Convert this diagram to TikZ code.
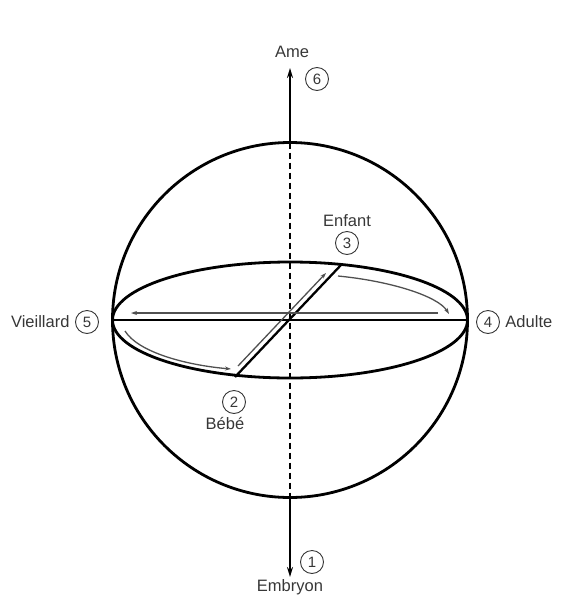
\documentclass[tikz,border=0pt]{standalone}
\usepackage{fontspec}
\setmainfont{Liberation Sans}
\definecolor{lbltext}{RGB}{55,55,55}
\definecolor{flowgray}{RGB}{80,80,80}
\usetikzlibrary{arrows.meta,positioning}

\begin{document}
\begin{tikzpicture}[x=1pt, y=-1pt,
  every node/.style={font=\fontsize{16.5}{18}\selectfont, text=lbltext},
  numcirc/.style={circle, draw=lbltext, line width=0.9pt, inner sep=0pt, minimum size=23pt, font=\fontsize{15}{16}\selectfont},
  body/.style={line width=2.8pt},
  axis/.style={line width=2.8pt, -{Stealth[length=10pt,width=6pt]}},
  flow/.style={draw=flowgray, line width=1.3pt, -{Stealth[length=6pt,width=4pt]}}]
  \useasboundingbox (0,0) rectangle (563,595);

  % Sphere and its equator
  \coordinate (c) at (290,320);
  \draw[body] (c) circle[radius=177.5];
  \draw[body] (c) ellipse[x radius=177.5, y radius=58];

  % Vertical axis
  \coordinate (ntop) at (290,142.5);
  \coordinate (sbot) at (290,497.5);
  \coordinate (up) at (290,68);
  \coordinate (down) at (290,577);
  \draw[line width=2.3pt, dash pattern=on 6pt off 4pt] (ntop) -- (sbot);
  \draw[axis] (ntop) -- (up);
  \draw[axis] (sbot) -- (down);

  % Diameters in the equator plane
  \coordinate (west) at (112.5,320);
  \coordinate (east) at (467.5,320);
  \coordinate (sw) at (235,377);
  \coordinate (ne) at (341,265);
  \draw[body] (west) -- (east);
  \draw[line width=2.3pt] (sw) -- (ne);

  % Circulation arrows
  \coordinate (f1a) at (438,313);  \coordinate (f1b) at (131,313);
  \coordinate (f2a) at (125,331);  \coordinate (f2b) at (231,369);
  \coordinate (f3a) at (238,366);  \coordinate (f3b) at (326,273);
  \coordinate (f4a) at (338,276);  \coordinate (f4b) at (449,314);
  \draw[flow] (f1a) -- (f1b);
  \draw[flow] (f2a) .. controls (138,352) and (185,365) .. (f2b);
  \draw[flow] (f3a) -- (f3b);
  \draw[flow] (f4a) .. controls (390,281) and (438,296) .. (f4b);

  % Stages
  \node[numcirc] (n6) at (317,79) {6};
  \node (ame) at (292,52) {Ame};
  \node[numcirc] (n3) at (347,243) {3};
  \node[above=1pt of n3] (enfant) {Enfant};
  \node[numcirc] (n5) at (87,322) {5};
  \node[left=2pt of n5] (vieil) {Vieillard};
  \node[numcirc] (n4) at (488,322) {4};
  \node[right=2pt of n4] (adulte) {Adulte};
  \node[numcirc] (n2) at (234,402) {2};
  \node[below=0pt of n2, xshift=-9pt] (bebe) {Bébé};
  \node[numcirc] (n1) at (312,562) {1};
  \node (embryon) at (290,587) {Embryon};
\end{tikzpicture}
\end{document}
